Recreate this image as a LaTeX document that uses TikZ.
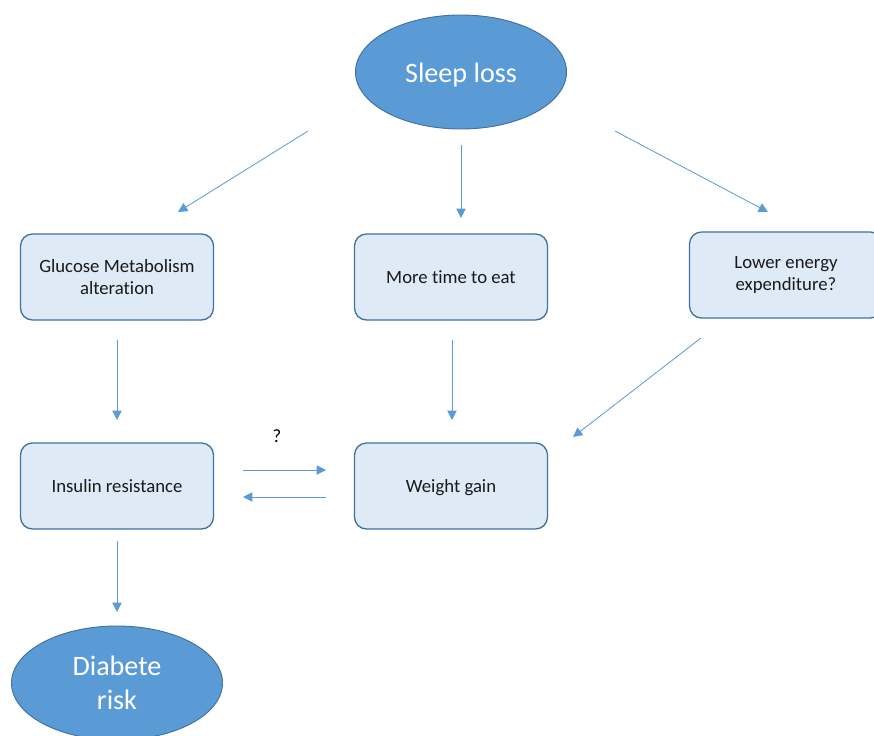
\documentclass[tikz,border=0pt]{standalone}
\usepackage{fontspec}
\setmainfont[Ligatures=NoCommon]{Carlito}
\definecolor{ovalblue}{HTML}{5B9BD5}
\definecolor{edgeblue}{HTML}{41719C}
\definecolor{boxfill}{HTML}{DEEBF7}
\tikzset{
  oval/.style={ellipse,draw=edgeblue,line width=0.8pt,fill=ovalblue,text=white,
    minimum width=6.33cm,minimum height=3.42cm,align=center,
    font=\fontsize{24}{29}\selectfont},
  causebox/.style={rectangle,rounded corners=0.36cm,draw=edgeblue,line width=1.1pt,
    fill=boxfill,minimum width=5.79cm,minimum height=2.58cm,align=center,
    text=black!90,font=\fontsize{16}{19}\selectfont},
  link/.style={draw=ovalblue,line width=0.7pt,-{Triangle[length=8pt,width=8pt]}}
}
\usetikzlibrary{shapes.geometric,arrows.meta}
\begin{document}
\begin{tikzpicture}[x=0.03cm,y=-0.03cm]
    \useasboundingbox (0,0) rectangle (874,736);
    \clip (0,0) rectangle (874,736);
    % nodes
    \node [oval] (sleep) at (461,72) {\raisebox{0pt}[\dimexpr\height+0.16cm]{Sleep loss}};
    \node [causebox] (glucose) at (117,277) {Glucose Metabolism\\alteration};
    \node [causebox] (eat) at (451,277) {More time to eat};
    \node [causebox] (energy) at (786,275) {Lower energy\\expenditure?};
    \node [causebox] (insulin) at (117,486) {Insulin resistance};
    \node [causebox] (weight) at (451,486) {\raisebox{0pt}[\dimexpr\height+0.08cm]{Weight gain}};
    \node [oval] (diabete) at (117,683) {Diabete\\risk};
    \node (q) at (277,436) {\fontsize{16}{19}\selectfont ?};
    % arrow ends
    \coordinate (s1) at (308,131); \coordinate (g1) at (178,212);
    \coordinate (s2) at (461,145); \coordinate (e1) at (461,218);
    \coordinate (s3) at (615,131); \coordinate (l1) at (768,212);
    \coordinate (g2) at (117,340); \coordinate (i1) at (117,420);
    \coordinate (e2) at (452,340); \coordinate (w1) at (452,420);
    \coordinate (l2) at (701,338); \coordinate (w2) at (573,437);
    \coordinate (i2) at (243,470); \coordinate (w3) at (326,470);
    \coordinate (w4) at (326,497); \coordinate (i3) at (243,497);
    \coordinate (i4) at (117,541); \coordinate (d1) at (117,612);
    % arrows
    \draw [link] (s1) -- (g1);
    \draw [link] (s2) -- (e1);
    \draw [link] (s3) -- (l1);
    \draw [link] (g2) -- (i1);
    \draw [link] (e2) -- (w1);
    \draw [link] (l2) -- (w2);
    \draw [link] (i2) -- (w3);
    \draw [link] (w4) -- (i3);
    \draw [link] (i4) -- (d1);
\end{tikzpicture}
\end{document}
